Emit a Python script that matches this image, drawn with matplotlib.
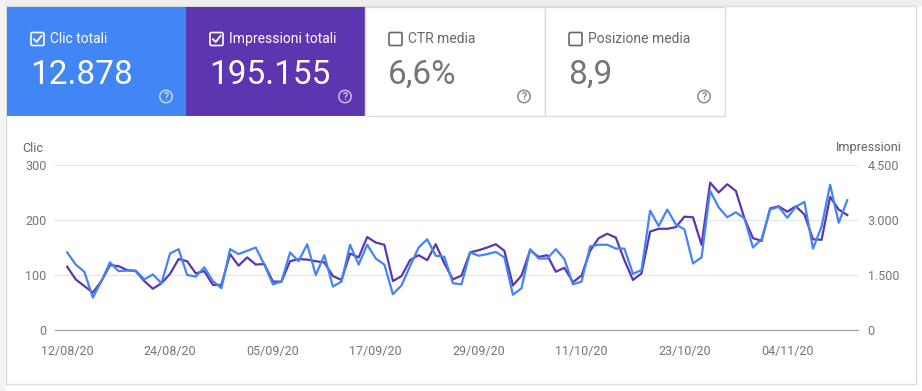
import matplotlib.pyplot as plt
import matplotlib.patches as patches
import matplotlib.dates as mdates
from matplotlib.ticker import FuncFormatter
import pandas as pd

plt.rcParams['font.family'] = ['Roboto', 'DejaVu Sans']

# Summary tiles
tile_labels = ['Clic totali', 'Impressioni totali', 'CTR media', 'Posizione media']
tile_values = ['12.878', '195.155', '6,6%', '8,9']
tile_checked = [True, True, False, False]

# Daily series, 12/08/20 -> 11/11/20
start_date = '2020-08-12'
clicks = [141, 119, 106, 59, 89, 123, 107, 108, 108, 92, 101, 85, 139, 147,
          100, 97, 114, 89, 76, 147, 138, 144, 150, 119, 83, 88, 141, 125,
          156, 100, 136, 79, 88, 155, 119, 155, 130, 119, 65, 81, 116, 150,
          165, 135, 133, 85, 83, 141, 135, 138, 142, 132, 64, 76, 147, 130,
          130, 147, 129, 83, 88, 152, 155, 155, 148, 148, 102, 109, 217, 189,
          219, 192, 183, 121, 132, 253, 223, 205, 214, 203, 150, 165, 219, 224,
          204, 224, 233, 148, 188, 264, 195, 236]
impressions = [1725, 1380, 1200, 1020, 1335, 1770, 1740, 1635, 1605, 1335, 1125,
               1275, 1530, 1935, 1875, 1545, 1605, 1230, 1230, 2070, 1755, 1980,
               1785, 1800, 1320, 1320, 1875, 1935, 1920, 1875, 1845, 1470, 1365,
               2085, 1980, 2535, 2385, 2325, 1335, 1470, 1905, 2040, 1905, 2340,
               1815, 1380, 1485, 2115, 2175, 2250, 2340, 2160, 1215, 1485, 2175,
               1995, 2040, 1590, 1695, 1305, 1485, 2160, 2505, 2625, 2520, 1905,
               1365, 1545, 2685, 2760, 2760, 2805, 3090, 3075, 2325, 4020, 3750,
               3975, 3795, 3045, 2505, 2430, 3315, 3375, 3225, 3375, 3150, 2475,
               2460, 3630, 3285, 3135]
clicks_ticks = [0, 100, 200, 300]
impr_ticks = [0, 1500, 3000, 4500]

BLUE = '#4285F4'
PURPLE = '#5E35B1'
W, H = 922, 391

fig = plt.figure(figsize=(W / 100, H / 100), dpi=100)
fig.patch.set_facecolor('white')

# background layer in pixel coordinates
bg = fig.add_axes([0, 0, 1, 1])
bg.set_xlim(0, W)
bg.set_ylim(H, 0)
bg.axis('off')

bg.add_patch(patches.Rectangle((0, 0), W, 6, color='#eeeeee', lw=0))
bg.add_patch(patches.Rectangle((0, 0), 5, H, color='#f3f3f3', lw=0))
bg.add_patch(patches.Rectangle((5.5, 6), 910, 378, fc='white', ec='#dcdcdc', lw=1))

tile_x = [7, 186, 365, 545]
tile_w = 179
tile_fill = [BLUE, PURPLE, 'white', 'white']
for i, label in enumerate(tile_labels):
    x0 = tile_x[i]
    if tile_checked[i]:
        bg.add_patch(patches.Rectangle((x0, 7), tile_w, 109, color=tile_fill[i], lw=0))
        fg, sub, icon = 'white', 'white', '#c6d5f7' if i == 0 else '#c9bde6'
    else:
        bg.add_patch(patches.Rectangle((x0, 7), tile_w + 0.5, 109, fc='white',
                                       ec='#dadce0', lw=1))
        fg, sub, icon = '#757575', '#666666', '#8a8a8a'
    # checkbox
    bg.add_patch(patches.FancyBboxPatch((x0 + 24, 32.5), 13, 13,
                                        boxstyle='round,pad=0,rounding_size=1.5',
                                        fc='none', ec=sub, lw=1.2))
    if tile_checked[i]:
        bg.plot([x0 + 27, x0 + 29.7, x0 + 34.5], [39.2, 42, 35.8], color='white', lw=1.3)
    bg.text(x0 + 43, 39, label, color=sub, fontsize=10, va='center', ha='left')
    bg.text(x0 + 23, 74.5, tile_values[i], color=fg, fontsize=24, va='center', ha='left')
    # help icon
    bg.add_patch(patches.Circle((x0 + 159, 96.5), 6.2, fc='none', ec=icon, lw=1.1))
    bg.text(x0 + 159, 97, '?', color=icon, fontsize=7.5, ha='center', va='center',
            fontweight='bold')

# chart: impressions on the lower twin, clicks on top
dates = pd.date_range(start_date, periods=len(clicks), freq='D')
ax = fig.add_axes([55 / W, 61 / H, (858 - 55) / W, 165 / H])
ax2 = ax.twinx()
ax.set_zorder(3)
ax2.set_zorder(2)
ax.patch.set_visible(False)
ax2.patch.set_visible(False)

ax2.plot(dates, impressions, color=PURPLE, lw=1.6)
ax.plot(dates, clicks, color=BLUE, lw=1.6)
ax.set_ylim(0, 300)
ax2.set_ylim(0, 4500)

ax.set_xlim(dates[0] - pd.Timedelta(hours=34), dates[-1] + pd.Timedelta(days=1.25))

ax.set_yticks(clicks_ticks)
ax2.set_yticks(impr_ticks)
ax2.yaxis.set_major_formatter(FuncFormatter(lambda v, p: f'{int(v):,}'.replace(',', '.')))
ax.set_xticks(dates[::12])
ax.xaxis.set_major_formatter(mdates.DateFormatter('%d/%m/%y'))

ax2.grid(axis='y', color='#e8e8e8', lw=1)
for a in (ax, ax2):
    for s in a.spines.values():
        s.set_visible(False)
    a.tick_params(length=0, labelsize=9, labelcolor='#757575')
ax.spines['bottom'].set_visible(True)
ax.spines['bottom'].set_color('#9e9e9e')
ax.tick_params(axis='y', pad=6)
ax2.tick_params(axis='y', pad=7)
ax.tick_params(axis='x', pad=11)

bg.text(22, 148, 'Clic', color='#616161', fontsize=9, va='center', ha='left')
bg.text(902, 148, 'Impressioni', color='#616161', fontsize=9, va='center', ha='right')

fig.savefig('out.png', dpi=100, facecolor='white')
